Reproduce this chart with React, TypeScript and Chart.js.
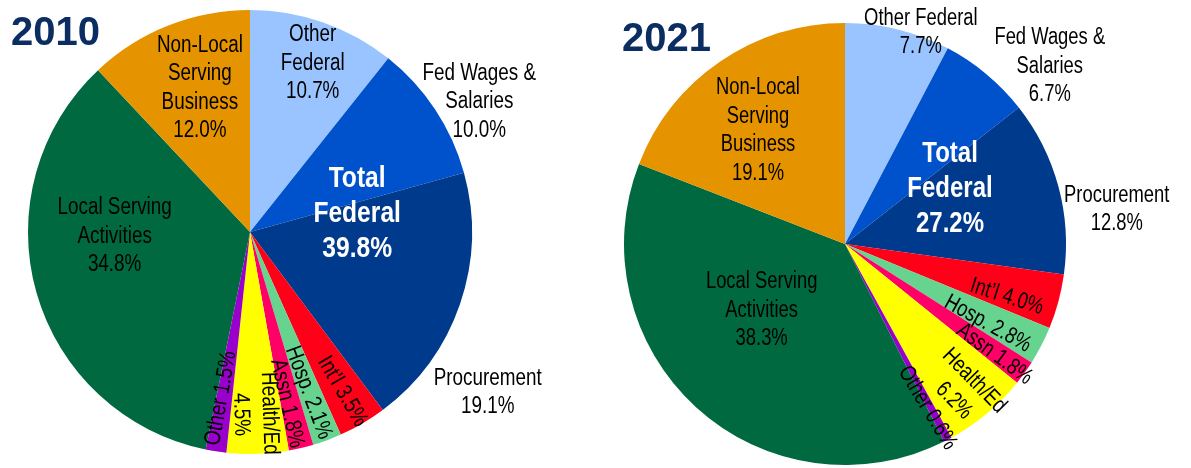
import React, { useEffect, useRef } from "react";
import { Chart, registerables } from "chart.js";

Chart.register(...registerables);

// ---- data ----
const CATEGORIES = [
  "Other Federal",
  "Fed Wages & Salaries",
  "Procurement",
  "Int’l",
  "Hosp.",
  "Assn",
  "Health/Ed",
  "Other",
  "Local Serving Activities",
  "Non-Local Serving Business",
];
const VALUES_2010 = [10.7, 10.0, 19.1, 3.5, 2.1, 1.8, 4.5, 1.5, 34.8, 12.0];
const VALUES_2021 = [7.7, 6.7, 12.8, 4.0, 2.8, 1.8, 6.2, 0.6, 38.3, 19.1];
const TITLE_2010 = "2010";
const TITLE_2021 = "2021";

// ---- styles ----
const COLORS = [
  "#99c4ff",
  "#0052cc",
  "#003a8c",
  "#ff0019",
  "#66d48e",
  "#ff0066",
  "#ffff00",
  "#9900cc",
  "#006940",
  "#e59400",
];
const TITLE_COLOR = "#0b2d62";
const FONT = "'Liberation Sans', Arial, sans-serif";

type LabelItem = {
  slice: number | [number, number];
  lines: string[];
  dAngle: number;
  r: number;
  mode?: "flat" | "radial" | "flip";
  rotAdj?: number;
  bold?: boolean;
  color?: string;
};

const LAYOUT_2010: LabelItem[] = [
  { slice: 0, lines: ["Other", "Federal", "{v}"], dAngle: 1, r: 0.815 },
  { slice: 1, lines: ["Fed Wages &", "Salaries", "{v}"], dAngle: 3.7, r: 1.19 },
  { slice: 2, lines: ["Procurement", "{v}"], dAngle: 15, r: 1.29 },
  { slice: [0, 2], lines: ["Total", "Federal", "{v}"], dAngle: 8.4, r: 0.49, bold: true, color: "#ffffff" },
  { slice: 3, lines: ["Int’l {v}"], dAngle: 0, r: 0.83, mode: "radial" },
  { slice: 4, lines: ["Hosp. {v}"], dAngle: 0, r: 0.77, mode: "radial" },
  { slice: 5, lines: ["Assn {v}"], dAngle: 0.8, r: 0.79, mode: "radial" },
  { slice: 6, lines: ["Health/Ed", "{v}"], dAngle: 0, r: 0.82, mode: "radial" },
  { slice: 7, lines: ["Other {v}"], dAngle: 1.4, r: 0.76, mode: "flip" },
  { slice: 8, lines: ["Local Serving", "Activities", "{v}"], dAngle: 14.5, r: 0.61 },
  { slice: 9, lines: ["Non-Local", "Serving", "Business", "{v}"], dAngle: 2.5, r: 0.69 },
];

const LAYOUT_2021: LabelItem[] = [
  { slice: 0, lines: ["Other Federal", "{v}"], dAngle: 5.8, r: 1.02 },
  { slice: 1, lines: ["Fed Wages &", "Salaries", "{v}"], dAngle: 9.1, r: 1.23 },
  { slice: 2, lines: ["Procurement", "{v}"], dAngle: 7.7, r: 1.24 },
  { slice: [0, 2], lines: ["Total", "Federal", "{v}"], dAngle: 12.7, r: 0.54, bold: true, color: "#ffffff" },
  { slice: 3, lines: ["Int’l {v}"], dAngle: 2.6, r: 0.77, mode: "radial" },
  { slice: 4, lines: ["Hosp. {v}"], dAngle: 1.5, r: 0.74, mode: "radial" },
  { slice: 5, lines: ["Assn {v}"], dAngle: 0.4, r: 0.84, mode: "radial" },
  { slice: 6, lines: ["Health/Ed", "{v}"], dAngle: 0.6, r: 0.855, mode: "radial", rotAdj: -5 },
  { slice: 7, lines: ["Other {v}"], dAngle: 0.7, r: 0.83, mode: "radial", rotAdj: -4 },
  { slice: 8, lines: ["Local Serving", "Activities", "{v}"], dAngle: 9.5, r: 0.48 },
  { slice: 9, lines: ["Non-Local", "Serving", "Business", "{v}"], dAngle: -2.9, r: 0.65 },
];

const sliceLabels = {
  id: "sliceLabels",
  afterDatasetsDraw(chart: any, _args: any, opts: any) {
    const ctx: CanvasRenderingContext2D = chart.ctx;
    const arcs = chart.getDatasetMeta(0).data;
    const values: number[] = chart.data.datasets[0].data;
    (opts.items as LabelItem[]).forEach((item) => {
      const [s, e] = Array.isArray(item.slice) ? item.slice : [item.slice, item.slice];
      const a0 = arcs[s].startAngle;
      const a1 = arcs[e].endAngle;
      const cx = arcs[s].x;
      const cy = arcs[s].y;
      const R = arcs[s].outerRadius;
      const ang = (a0 + a1) / 2 + (item.dAngle * Math.PI) / 180;
      const x = cx + Math.cos(ang) * R * item.r;
      const y = cy + Math.sin(ang) * R * item.r;
      let sum = 0;
      for (let i = s; i <= e; i++) sum += values[i];
      const vs = sum.toFixed(1) + "%";
      const text = item.lines.map((l) => l.replace("{v}", vs));
      ctx.save();
      ctx.translate(x, y);
      const adj = ((item.rotAdj || 0) * Math.PI) / 180;
      if (item.mode === "radial") ctx.rotate(ang + adj);
      else if (item.mode === "flip") ctx.rotate(ang + Math.PI + adj);
      ctx.scale(opts.squeeze, 1);
      const size = item.bold ? 30 : 23;
      const lh = item.bold ? 35 : 28.5;
      ctx.font = `${item.bold ? "bold " : ""}${size}px ${FONT}`;
      ctx.fillStyle = item.color || "#000000";
      ctx.textAlign = "center";
      ctx.textBaseline = "middle";
      const n = text.length;
      text.forEach((t, k) => ctx.fillText(t, 0, (k - (n - 1) / 2) * lh + 1));
      ctx.restore();
    });
    ctx.save();
    ctx.font = `bold 40px ${FONT}`;
    ctx.fillStyle = TITLE_COLOR;
    ctx.textAlign = "left";
    ctx.textBaseline = "alphabetic";
    ctx.fillText(opts.title, opts.titleX, opts.titleY);
    ctx.restore();
  },
};

function PieChart(props: {
  values: number[];
  layout: LabelItem[];
  title: string;
  titleX: number;
  titleY: number;
  width: number;
  height: number;
  padding: { left: number; right: number; top: number; bottom: number };
  squeeze: number;
  left: number;
}) {
  const ref = useRef<HTMLCanvasElement | null>(null);
  useEffect(() => {
    if (!ref.current) return;
    const chart = new Chart(ref.current, {
      type: "pie",
      data: {
        labels: CATEGORIES,
        datasets: [
          {
            data: props.values,
            backgroundColor: COLORS,
            borderWidth: 0,
          },
        ],
      },
      options: {
        animation: false,
        responsive: false,
        maintainAspectRatio: false,
        layout: { padding: props.padding },
        plugins: {
          legend: { display: false },
          tooltip: { enabled: false },
          sliceLabels: {
            items: props.layout,
            squeeze: props.squeeze,
            title: props.title,
            titleX: props.titleX,
            titleY: props.titleY,
          },
        } as any,
      },
      plugins: [sliceLabels as any],
    });
    return () => chart.destroy();
  }, []);
  return (
    <canvas
      ref={ref}
      width={props.width}
      height={props.height}
      style={{ position: "absolute", left: props.left, top: 0, width: props.width, height: props.height }}
    />
  );
}

export default function App() {
  return (
    <div
      style={{
        position: "absolute",
        left: 0,
        top: 0,
        width: 1191,
        height: 468,
        overflow: "hidden",
        background: "#ffffff",
      }}
    >
      <PieChart
        values={VALUES_2010}
        layout={LAYOUT_2010}
        title={TITLE_2010}
        titleX={11}
        titleY={45}
        width={600}
        height={468}
        padding={{ left: 28, right: 128, top: 10, bottom: 14 }}
        squeeze={0.82}
        left={0}
      />
      <PieChart
        values={VALUES_2021}
        layout={LAYOUT_2021}
        title={TITLE_2021}
        titleX={22}
        titleY={51}
        width={591}
        height={468}
        padding={{ left: 24, right: 125, top: 23, bottom: 3 }}
        squeeze={0.8}
        left={600}
      />
    </div>
  );
}
